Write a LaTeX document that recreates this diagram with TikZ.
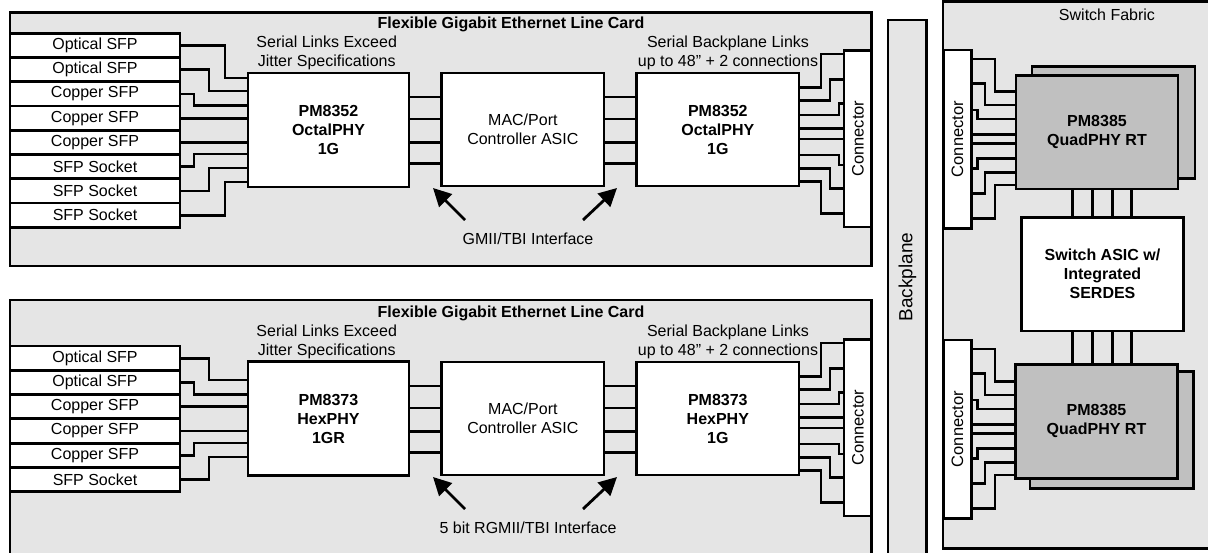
\documentclass[tikz,border=0pt]{standalone}
\usepackage{fontspec}
\setmainfont{Liberation Sans}
\usetikzlibrary{arrows.meta}
\definecolor{cardgray}{HTML}{E5E5E5}
\definecolor{chipgray}{HTML}{C0C0C0}
\begin{document}
\begin{tikzpicture}[x=1pt,y=-1pt,
  lw/.style={line width=2.8pt},
  every node/.style={font=\fontsize{16}{19}\selectfont, inner sep=0pt, outer sep=0pt},
  card/.style={draw, lw, fill=cardgray, rectangle},
  box/.style={draw, lw, fill=white, align=center},
  chip/.style={box, font=\fontsize{16}{19}\selectfont\bfseries},
  gchip/.style={chip, fill=chipgray},
  sfp/.style={box, minimum width=170, minimum height=24.25},
  wire/.style={lw},
  ptr/.style={lw, -{Triangle[length=18pt,width=18pt]}},
  txt/.style={align=center},
  title/.style={font=\fontsize{16}{19}\selectfont\bfseries},
  contxt/.style={rotate=90, font=\fontsize{16.5}{19}\selectfont},
  ]
\clip (0,0) rectangle (1208,553);
\fill[white] (0,0) rectangle (1208,553);

% ================= Top line card =================
\node[card, minimum width=861.7, minimum height=253.3] (cardA) at (440.85,139.35) {};
\node[title] (titleA) at (511,24) {Flexible Gigabit Ethernet Line Card};
\foreach \i/\t in {1/Optical SFP,2/Optical SFP,3/Copper SFP,4/Copper SFP,5/Copper SFP,6/SFP Socket,7/SFP Socket,8/SFP Socket}
  \node[sfp] (sA\i) at (95,{33.3+24.25*(\i-0.5)}) {\t};
\node[chip, minimum width=161, minimum height=114] (phyA) at (328.5,130) {PM8352\\OctalPHY\\1G};
\node[box, minimum width=162.3, minimum height=113] (macA) at (522.85,129.5) {MAC/Port\\Controller ASIC};
\node[chip, minimum width=162.3, minimum height=113] (phyAR) at (717.85,129.5) {PM8352\\OctalPHY\\1G};
\node[box, minimum width=27.7, minimum height=176.5] (conA) at (857.85,138.75) {};
\node[contxt] (conAt) at (conA.center) {Connector};
\node[txt] (noteA1) at (326.7,53) {Serial Links Exceed\\Jitter Specifications};
\node[txt] (noteA2) at (728,53) {Serial Backplane Links\\up to 48\symbol{34} + 2 connections};
\node (ifA) at (528,239) {GMII/TBI Interface};
\coordinate (aA1s) at (465,220); \coordinate (aA1e) at (433,188);
\coordinate (aA2s) at (583,220); \coordinate (aA2e) at (617,188);
\draw[ptr] (aA1s) -- (aA1e);
\draw[ptr] (aA2s) -- (aA2e);
\foreach \i/\py/\tx in {1/78/225,2/91/209,3/105.5/194,6/154/194,7/168/209,8/182/225}
  \draw[wire] (sA\i.east) -| (\tx,\py) -- (phyA.west |- 0,\py);
\foreach \i in {4,5}
  \draw[wire] (sA\i.east) -- (sA\i.east -| phyA.west);
\foreach \py in {97,119,142.5,163.5}{
  \draw[wire] (phyA.east |- 0,\py) -- (macA.west |- 0,\py);
  \draw[wire] (macA.east |- 0,\py) -- (phyAR.west |- 0,\py);
}
\foreach \py/\cy/\tx in {87.7/54/821,100.7/79.3/830,115/103.3/839,155/165/839,168.3/188.3/830,181.7/213.3/821}
  \draw[wire] (phyAR.east |- 0,\py) -| (\tx,\cy) -- (conA.west |- 0,\cy);
\foreach \py in {128.3,139}
  \draw[wire] (phyAR.east |- 0,\py) -- (conA.west |- 0,\py);

% ================= Bottom line card =================
\begin{scope}[shift={(0,289)}]
\node[card, minimum width=861.7, minimum height=279] (cardB) at (440.85,150.5) {};
\node[title] (titleB) at (511,24) {Flexible Gigabit Ethernet Line Card};
\foreach \i/\t in {1/Optical SFP,2/Optical SFP,3/Copper SFP,4/Copper SFP,5/Copper SFP,6/SFP Socket}
  \node[sfp] (sB\i) at (95,{57+24.3*(\i-0.5)}) {\t};
\node[chip, minimum width=161, minimum height=114] (phyB) at (328.5,129.7) {PM8373\\HexPHY\\1GR};
\node[box, minimum width=162.3, minimum height=113] (macB) at (522.85,129.5) {MAC/Port\\Controller ASIC};
\node[chip, minimum width=162.3, minimum height=113] (phyBR) at (717.85,129.5) {PM8373\\HexPHY\\1G};
\node[box, minimum width=27.7, minimum height=176.5] (conB) at (857.85,138.75) {};
\node[contxt] (conBt) at (conB.center) {Connector};
\node[txt] (noteB1) at (326.7,53) {Serial Links Exceed\\Jitter Specifications};
\node[txt] (noteB2) at (728,53) {Serial Backplane Links\\up to 48\symbol{34} + 2 connections};
\node (ifB) at (528,239) {5 bit RGMII/TBI Interface};
\coordinate (aB1s) at (465,220); \coordinate (aB1e) at (433,188);
\coordinate (aB2s) at (583,220); \coordinate (aB2e) at (617,188);
\draw[ptr] (aB1s) -- (aB1e);
\draw[ptr] (aB2s) -- (aB2e);
\foreach \i/\py/\tx in {1/91/209,2/105.5/194,5/154/194,6/168/209}
  \draw[wire] (sB\i.east) -| (\tx,\py) -- (phyB.west |- 0,\py);
\foreach \i in {3,4}
  \draw[wire] (sB\i.east) -- (sB\i.east -| phyB.west);
\foreach \py in {97,119,142.5,163.5}{
  \draw[wire] (phyB.east |- 0,\py) -- (macB.west |- 0,\py);
  \draw[wire] (macB.east |- 0,\py) -- (phyBR.west |- 0,\py);
}
\foreach \py/\cy/\tx in {87.7/54/821,100.7/79.3/830,115/103.3/839,155/165/839,168.3/188.3/830,181.7/213.3/821}
  \draw[wire] (phyBR.east |- 0,\py) -| (\tx,\cy) -- (conB.west |- 0,\cy);
\foreach \py in {128.3,139}
  \draw[wire] (phyBR.east |- 0,\py) -- (conB.west |- 0,\py);
\end{scope}

% ================= Backplane =================
\node[card, minimum width=38.7, minimum height=560] (bp) at (907.35,300) {};
\node[rotate=90, font=\fontsize{19}{22}\selectfont] (bpt) at (907.35,277) {Backplane};

% ================= Switch fabric =================
\node[card, minimum width=287, minimum height=546.6] (sf) at (1086.5,275) {};
\node (sft) at (1107,15) {Switch Fabric};
\node[box, minimum width=28.4, minimum height=178.3] (conC) at (957.5,139.15) {};
\node[contxt] (conCt) at (conC.center) {Connector};
\node[box, minimum width=28.4, minimum height=178.3] (conD) at (957.5,429.15) {};
\node[contxt] (conDt) at (conD.center) {Connector};
% top QuadPHY
\node[gchip, minimum width=163, minimum height=111.6] (qAb) at (1113.5,122.5) {};
\node[gchip, minimum width=162, minimum height=113.3] (qA) at (1097,132.35) {PM8385\\QuadPHY RT};
% bottom QuadPHY
\node[gchip, minimum width=163.3, minimum height=116.6] (qBb) at (1111.65,430) {};
\node[gchip, minimum width=162, minimum height=114] (qB) at (1096.5,421.3) {PM8385\\QuadPHY RT};
% switch ASIC
\node[chip, minimum width=161.6, minimum height=113.7] (asic) at (1102.5,274.15) {Switch ASIC w/\\Integrated\\SERDES};
\foreach \vx in {1072.3,1092.3,1112.3,1131.7}{
  \draw[wire] (qA.south -| \vx,0) -- (asic.north -| \vx,0);
  \draw[wire] (asic.south -| \vx,0) -- (qB.north -| \vx,0);
}
\foreach \cy/\tx/\py in {59/995/91.7,83.3/985/105,110/977.3/119,168.3/977.3/158.3,193.3/985/172.7,218.3/995/185}{
  \draw[wire] (conC.east |- 0,\cy) -| (\tx,\py) -- (qA.west |- 0,\py);
  \draw[wire] (conD.east |- 0,{\cy+290}) -| (\tx,{\py+290}) -- (qB.west |- 0,{\py+290});
}
\foreach \cy in {134.3,143.7}{
  \draw[wire] (conC.east |- 0,\cy) -- (qA.west |- 0,\cy);
  \draw[wire] (conD.east |- 0,{\cy+290}) -- (qB.west |- 0,{\cy+290});
}
\end{tikzpicture}
\end{document}
